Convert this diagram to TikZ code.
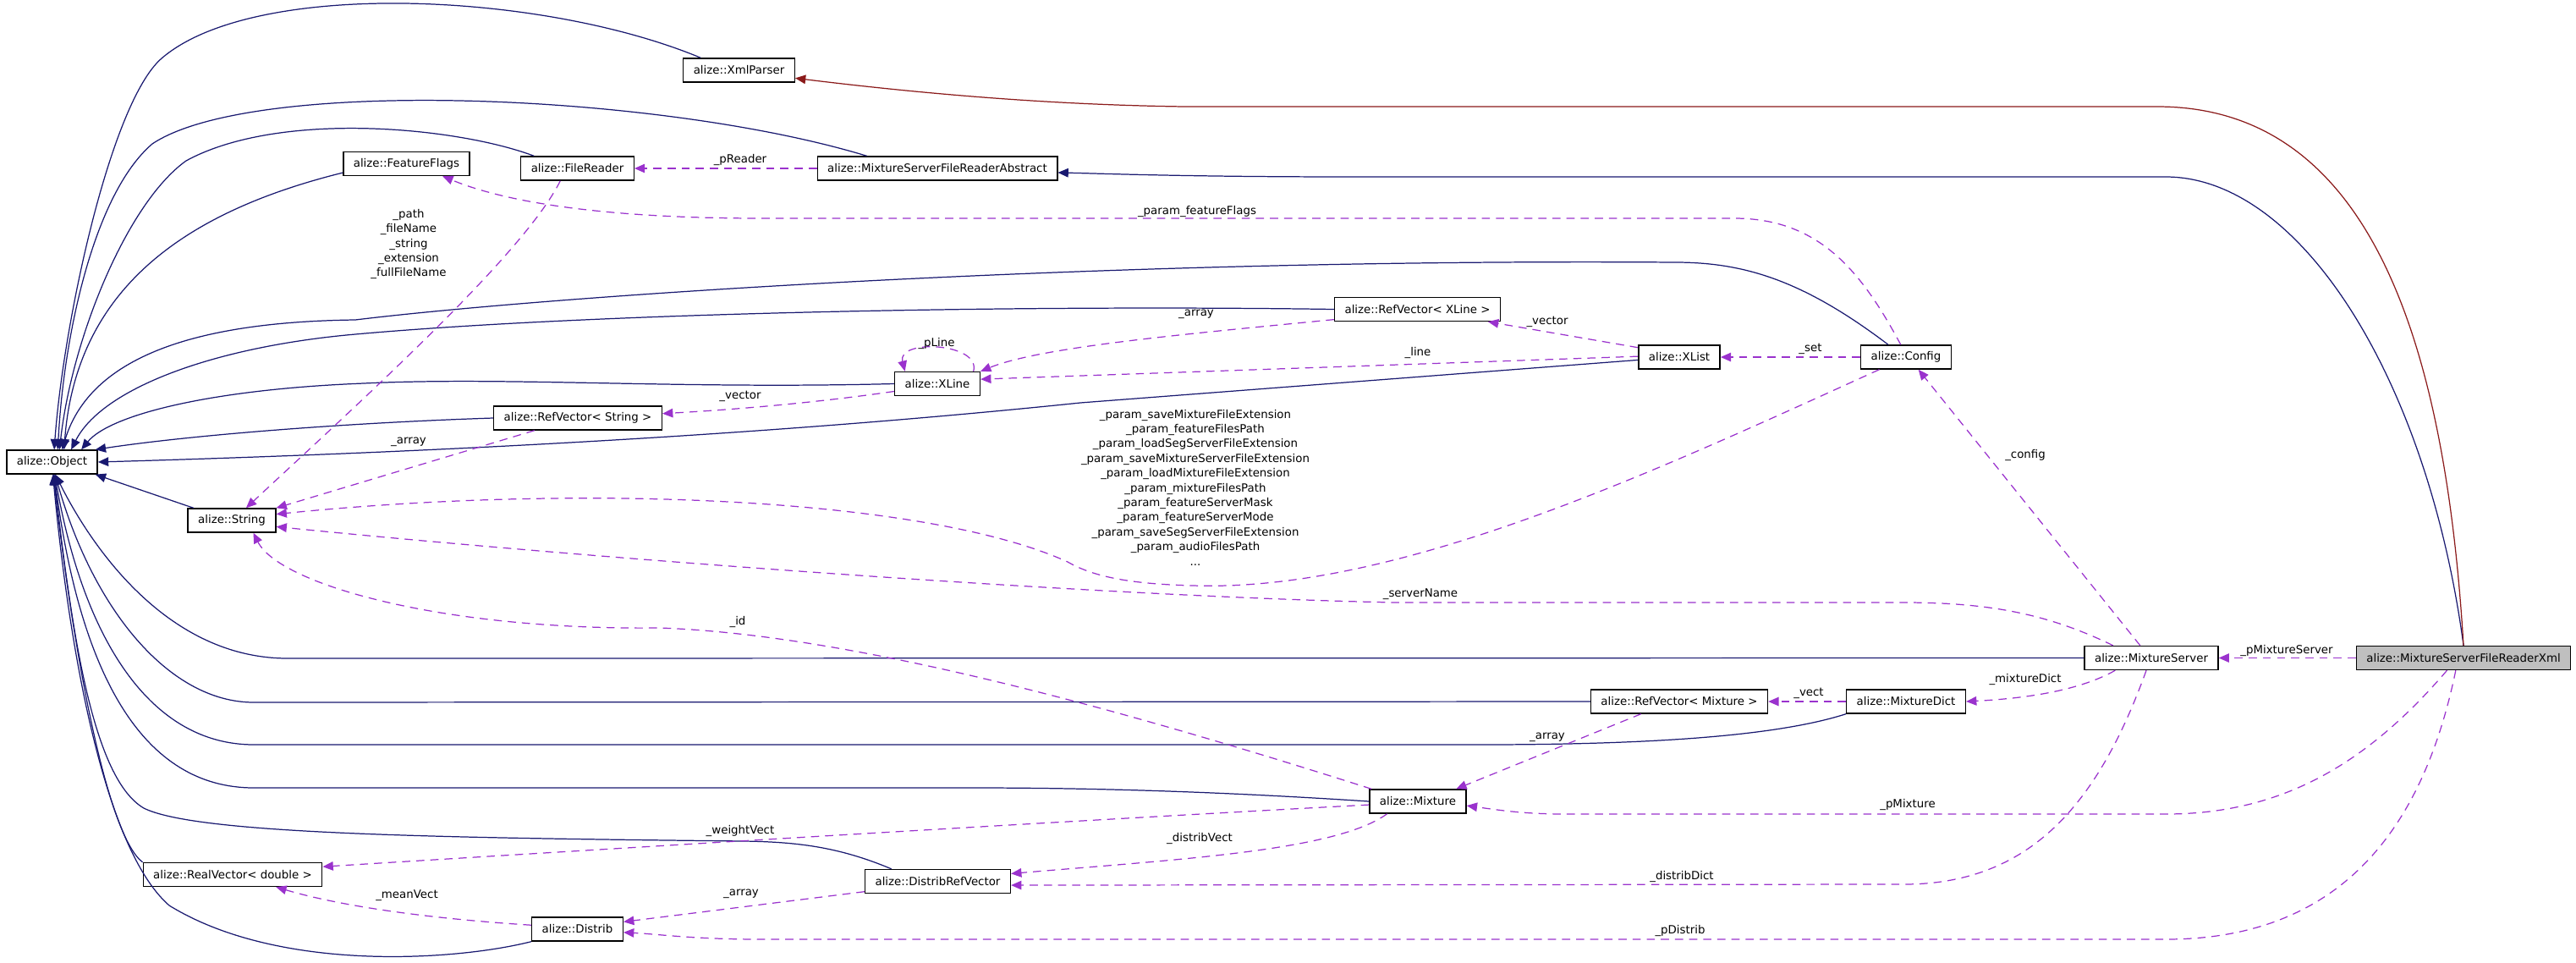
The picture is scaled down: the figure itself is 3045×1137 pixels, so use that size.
\documentclass[tikz,border=0pt]{standalone}
\usepackage{fontspec}
\setmainfont{DejaVu Sans}
\usetikzlibrary{arrows.meta}
\definecolor{edgenavy}{HTML}{191970}
\definecolor{edgepurple}{HTML}{9A32CD}
\definecolor{edgered}{HTML}{8B1A1A}
\definecolor{nodegray}{HTML}{BFBFBF}

\begin{document}
\begin{tikzpicture}[
    x=0.2mm, y=-0.2mm,
    font=\fontsize{7.6}{9.9}\selectfont,
    cls/.style={draw, fill=#1, line width=0.8pt, minimum height=5.6mm, inner xsep=2.4mm, inner ysep=0pt},
    cls/.default=white,
    inh/.style={-{Triangle[length=7pt,width=6pt]}, line width=0.7pt, color=#1},
    inh/.default=edgenavy,
    usage/.style={-{Triangle[length=7pt,width=6pt]}, line width=0.7pt, color=edgepurple, dash pattern=on 5.5pt off 4pt},
    lbl/.style={align=center, inner sep=0pt},
]
\useasboundingbox (0,0) rectangle (3045,1137);

\node[cls] (xmlparser) at (873.5,83) {alize::XmlParser};
\node[cls] (featureflags) at (480.5,193.5) {alize::FeatureFlags};
\node[cls] (filereader) at (682.5,199) {alize::FileReader};
\node[cls] (msfrabstract) at (1108,199) {alize::MixtureServerFileReaderAbstract};
\node[cls] (refvecxline) at (1675.5,365.5) {alize::RefVector< XLine >};
\node[cls] (xlist) at (1985,422) {alize::XList};
\node[cls] (config) at (2253,422) {alize::Config};
\node[cls] (xline) at (1108,453.5) {alize::XLine};
\node[cls] (refvecstring) at (683,494) {alize::RefVector< String >};
\node[cls] (object) at (61.5,546) {alize::Object};
\node[cls] (string) at (274,615) {alize::String};
\node[cls] (mixserver) at (2543,777.5) {alize::MixtureServer};
\node[cls=nodegray] (msfrxml) at (2912,777.5) {alize::MixtureServerFileReaderXml};
\node[cls] (refvecmixture) at (1985,829) {alize::RefVector< Mixture >};
\node[cls] (mixturedict) at (2253,829) {alize::MixtureDict};
\node[cls] (mixture) at (1676,947) {alize::Mixture};
\node[cls] (realvector) at (275,1033.5) {alize::RealVector< double >};
\node[cls] (distribrefvector) at (1108.5,1041.5) {alize::DistribRefVector};
\node[cls] (distrib) at (682.5,1098) {alize::Distrib};

\draw[inh] (xmlparser.162) .. controls (640,-10) and (300,-25) .. (191,69) .. controls (131,121) and (75,380) .. (object.80);
\draw[inh] (msfrabstract.170) .. controls (780,110) and (300,90) .. (180,170) .. controls (110,230) and (75,400) .. (object.65);
\draw[inh] (filereader.164) .. controls (540,150) and (330,130) .. (220,190) .. controls (150,240) and (85,400) .. (object.59);
\draw[inh] (featureflags.-172) .. controls (220,250) and (90,340) .. (object.46);
\draw[inh] (config.145) .. controls (2130,330) and (2060,310) .. (1980,310) .. controls (1300,305) and (650,350) .. (420,378) .. controls (260,380) and (110,410) .. (object.51);
\draw[inh] (refvecxline.west) .. controls (1200,360) and (700,370) .. (420,395) .. controls (250,410) and (120,460) .. (object.33);
\draw[inh] (xline.west) .. controls (800,460) and (600,445) .. (430,453) .. controls (250,460) and (130,490) .. (object.23);
\draw[inh] (refvecstring.west) .. controls (400,500) and (220,515) .. (object.16);
\draw[inh] (xlist.-176) -- (1277,476) .. controls (900,515) and (500,535) .. (object.east);
\draw[inh] (string.162) -- (object.-16);
\draw[inh] (mixserver.west) -- (340,778) .. controls (200,778) and (110,650) .. (object.-75);
\draw[inh] (refvecmixture.west) -- (300,830) .. controls (200,830) and (110,720) .. (object.-76);
\draw[inh] (mixturedict.south west) .. controls (2100,870) and (1950,880) .. (1750,880) -- (300,880) .. controls (180,880) and (100,760) .. (object.-78);
\draw[inh] (mixture.west) .. controls (1450,936) and (1300,931) .. (1150,931) -- (300,931) .. controls (170,931) and (95,800) .. (object.-80);
\draw[inh] (distribrefvector.165) .. controls (990,1000) and (940,995) .. (880,994) .. controls (500,990) and (230,985) .. (170,955) .. controls (110,920) and (85,750) .. (object.-82);
\draw[inh] (realvector.north west) .. controls (130,990) and (90,800) .. (object.-84);
\draw[inh] (distrib.south west) .. controls (540,1135) and (330,1150) .. (200,1070) .. controls (120,1000) and (80,750) .. (object.-86);
\draw[inh] (msfrxml.north) .. controls (2870,450) and (2720,209) .. (2560,209) -- (1600,209) .. controls (1400,209) and (1300,205) .. (msfrabstract.-2);
\draw[inh=edgered] (msfrxml.north) .. controls (2890,400) and (2800,126) .. (2550,126) -- (1400,126) .. controls (1250,124) and (1100,112) .. (xmlparser.-8);

\draw[usage] (msfrabstract.west) -- (filereader.east);
\draw[usage] (config.113) .. controls (2200,320) and (2150,258) .. (2050,258) -- (900,258) .. controls (720,258) and (600,240) .. (featureflags.-19);
\draw[usage] (filereader.-144) .. controls (620,300) and (420,480) .. (string.41);
\draw[usage] (refvecstring.-164) -- (string.north east);
\draw[usage] (xline.-170) .. controls (950,478) and (850,485) .. (refvecstring.3);
\draw[usage] (xline.19) .. controls (1160,405) and (1060,400) .. (xline.159);
\draw[usage] (refvecxline.-173) .. controls (1400,395) and (1230,410) .. (xline.north east);
\draw[usage] (xlist.167) -- (refvecxline.-10);
\draw[usage] (xlist.179) -- (xline.6);
\draw[usage] (config.west) -- (xlist.east);
\draw[usage] (config.-155) .. controls (1950,560) and (1650,700) .. (1410,692) .. controls (1330,690) and (1290,680) .. (1262,664) .. controls (1100,590) and (700,570) .. (string.8);
\draw[usage] (mixserver.162) .. controls (2420,725) and (2350,712) .. (2250,712) -- (1650,712) .. controls (1300,705) and (700,660) .. (string.-8);
\draw[usage] (mixserver.132) -- (config.-45);
\draw[usage] (mixserver.-161) .. controls (2460,815) and (2400,825) .. (mixturedict.east);
\draw[usage] (mixturedict.west) -- (refvecmixture.east);
\draw[usage] (refvecmixture.-162) -- (mixture.18);
\draw[usage] (mixture.165) .. controls (1300,830) and (1000,750) .. (780,742) .. controls (520,745) and (330,690) .. (string.-30);
\draw[usage] (mixture.-176) .. controls (1300,968) and (800,998) .. (realvector.5);
\draw[usage] (mixture.-158) .. controls (1580,1005) and (1400,1015) .. (distribrefvector.6);
\draw[usage] (mixserver.-112) .. controls (2480,950) and (2400,1045) .. (2250,1045) -- (distribrefvector.-3);
\draw[usage] (distribrefvector.-172) -- (distrib.9);
\draw[usage] (distrib.175) .. controls (500,1085) and (400,1070) .. (realvector.-16);
\draw[usage] (msfrxml.west) -- (mixserver.east);
\draw[usage] (msfrxml.-143) .. controls (2800,900) and (2700,962) .. (2560,962) -- (1850,962) .. controls (1800,962) and (1770,957) .. (mixture.-5);
\draw[usage] (msfrxml.-122) .. controls (2860,1000) and (2750,1110) .. (2560,1110) -- (900,1110) .. controls (820,1110) and (780,1104) .. (distrib.-4);

\node[lbl] (lpreader) at (875,189) {\_pReader};
\node[lbl] (lflags) at (1415,250) {\_param\_featureFlags};
\node[lbl] (lfile) at (483,288.5) {\_path\\\_fileName\\\_string\\\_extension\\\_fullFileName};
\node[lbl] (larraystr) at (483,522) {\_array};
\node[lbl] (lvectorstr) at (875,468) {\_vector};
\node[lbl] (lpline) at (1107,406) {\_pLine};
\node[lbl] (larrayxline) at (1414,371) {\_array};
\node[lbl] (lvectorxline) at (1829,380) {\_vector};
\node[lbl] (lline) at (1676,417) {\_line};
\node[lbl] (lset) at (2140,412) {\_set};
\node[lbl] (lparams) at (1413,576) {\_param\_saveMixtureFileExtension\\\_param\_featureFilesPath\\\_param\_loadSegServerFileExtension\\\_param\_saveMixtureServerFileExtension\\\_param\_loadMixtureFileExtension\\\_param\_mixtureFilesPath\\\_param\_featureServerMask\\\_param\_featureServerMode\\\_param\_saveSegServerFileExtension\\\_param\_audioFilesPath\\...};
\node[lbl] (lservername) at (1679,702) {\_serverName};
\node[lbl] (lconfig) at (2394,538) {\_config};
\node[lbl] (lid) at (872,735) {\_id};
\node[lbl] (lmixdict) at (2394,803) {\_mixtureDict};
\node[lbl] (lvect) at (2138,819) {\_vect};
\node[lbl] (larraymix) at (1829,871) {\_array};
\node[lbl] (lpmixserver) at (2703,769) {\_pMixtureServer};
\node[lbl] (lweight) at (875,982) {\_weightVect};
\node[lbl] (ldistribvect) at (1418,991) {\_distribVect};
\node[lbl] (lpmixture) at (2255,951) {\_pMixture};
\node[lbl] (ldistribdict) at (1988,1036) {\_distribDict};
\node[lbl] (larraydistrib) at (876,1056) {\_array};
\node[lbl] (lmeanvect) at (481,1058) {\_meanVect};
\node[lbl] (lpdistrib) at (1986,1100) {\_pDistrib};

\end{tikzpicture}
\end{document}
